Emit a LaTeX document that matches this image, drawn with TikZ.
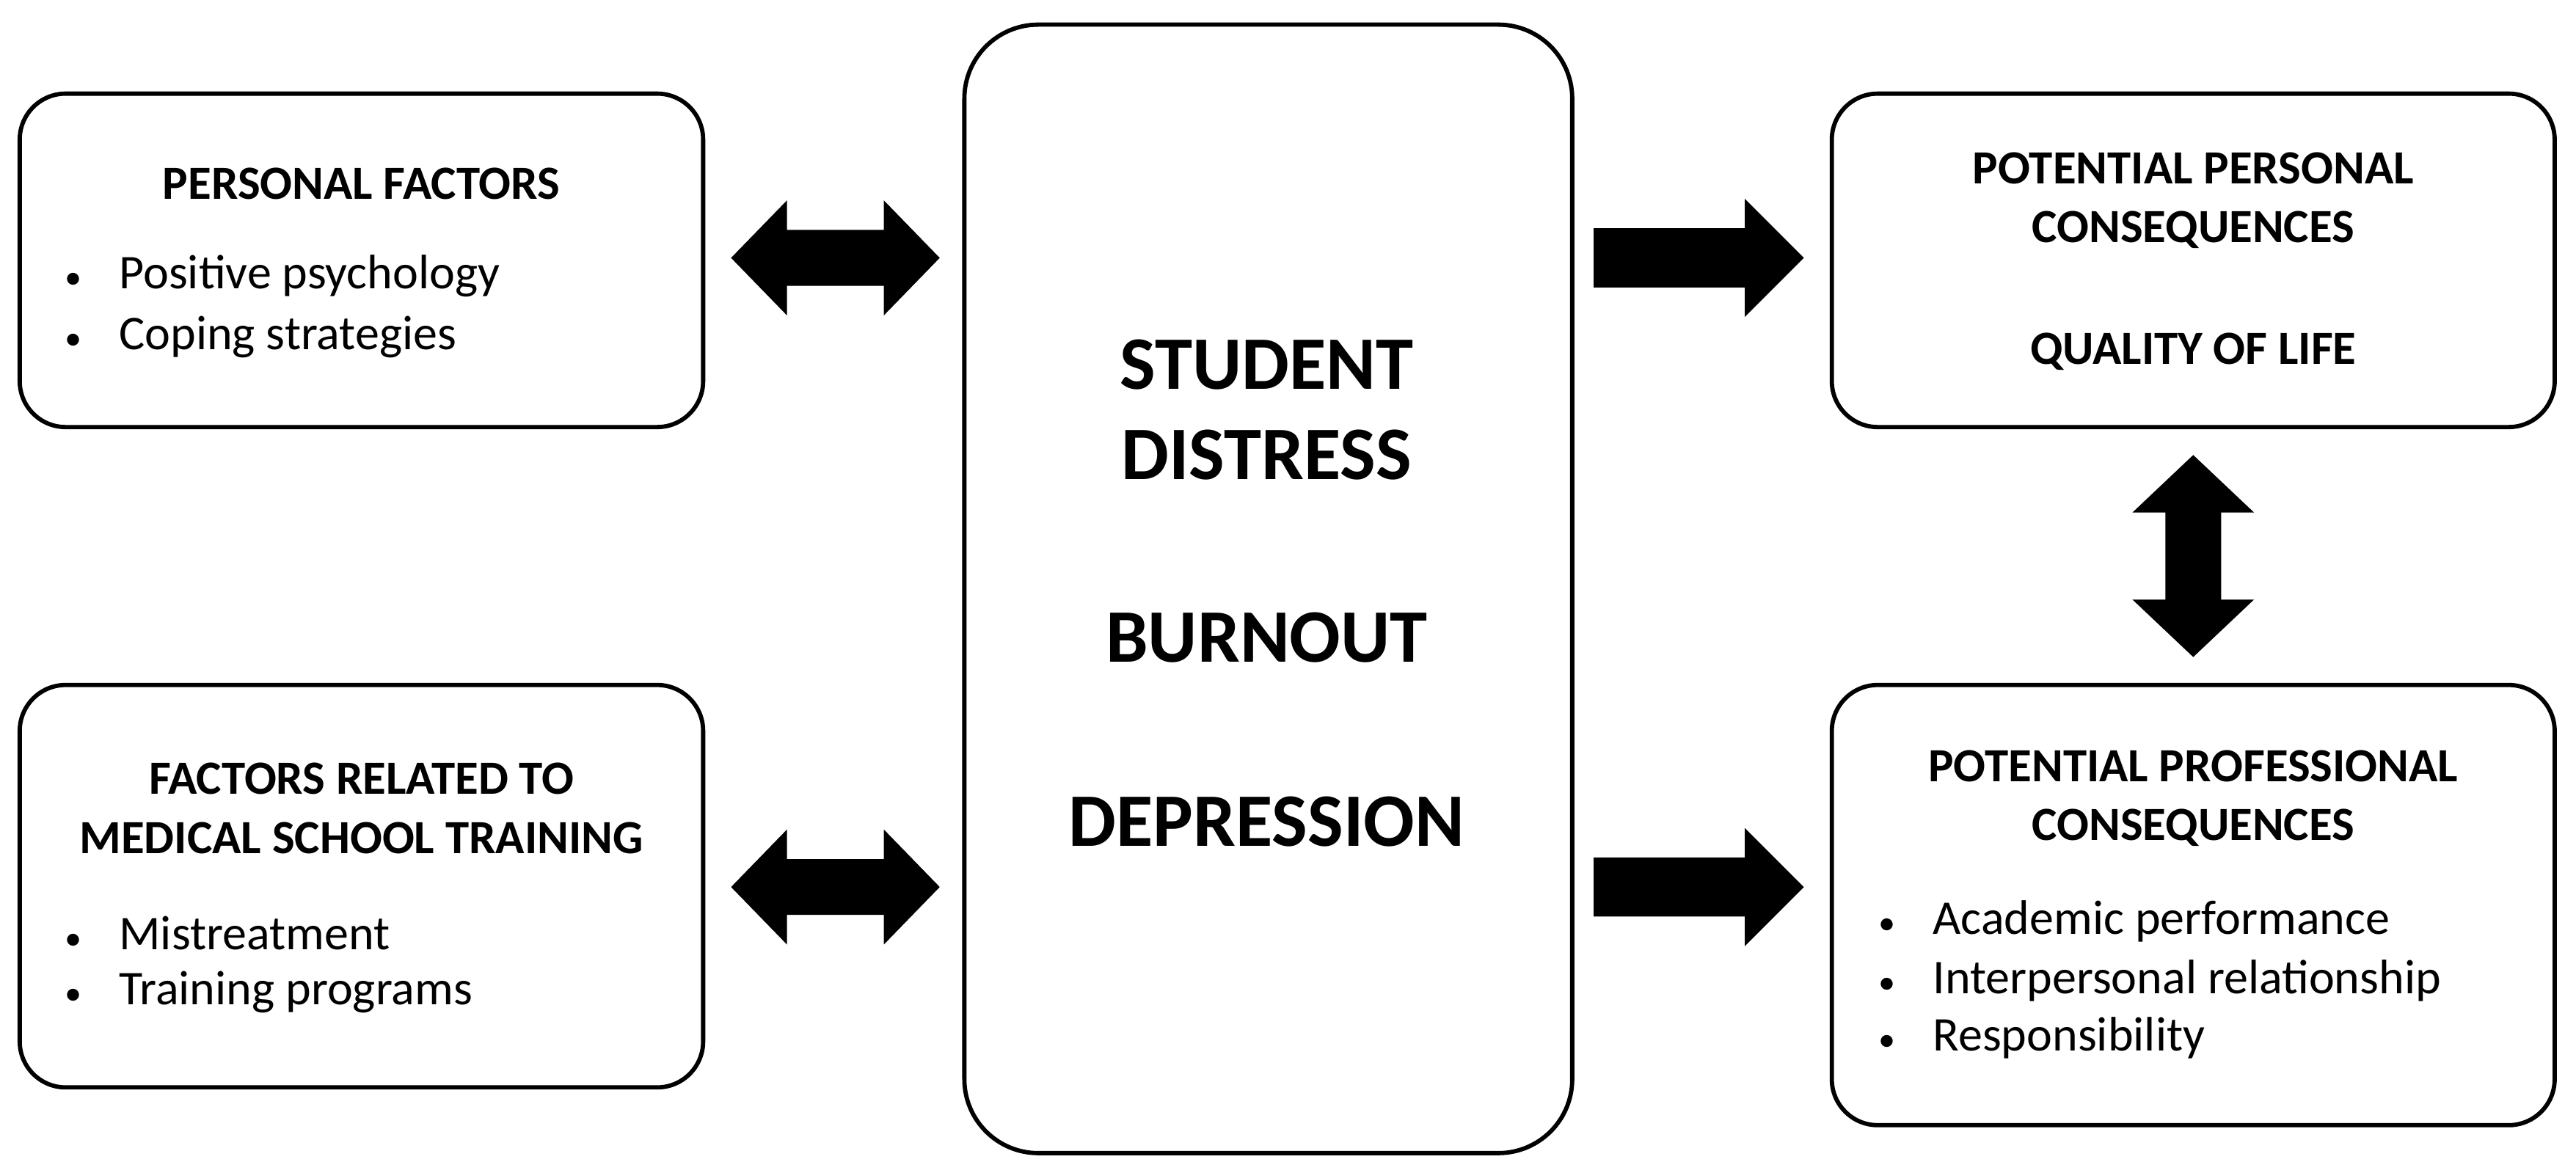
\documentclass[tikz,border=0pt]{standalone}
\usepackage{fontspec}
\setmainfont{Carlito}
\begin{document}
\begin{tikzpicture}[x=1pt,y=-1pt,
 box/.style={draw,line width=2.6pt,rounded corners=28pt},
 ttl/.style={font=\fontsize{29}{36}\selectfont\bfseries,align=center},
 txt/.style={font=\fontsize{29.5}{36}\selectfont,anchor=west},
 big/.style={font=\fontsize{46}{52}\selectfont\bfseries},
 arr/.style={fill=black,draw=none}]
\useasboundingbox (0,0) rectangle (1568,714);
\newcommand\bul{\makebox[33pt][l]{\scalebox{0.7}{•}}}
\node[box,minimum width=416pt,minimum height=203pt] (pf) at (220,158.5) {};
\node[box,minimum width=416pt,minimum height=245pt] (ms) at (220,539.5) {};
\node[box,minimum width=370pt,minimum height=687pt,rounded corners=45pt] (c) at (772,358.5) {};
\node[box,minimum width=440pt,minimum height=203pt] (pp) at (1335,158.5) {};
\node[box,minimum width=440pt,minimum height=268pt] (pr) at (1335,551) {};
% texts
\node[ttl] (t1) at (220,112) {PERSONAL FACTORS};
\node[txt] (b1) at (36,168) {\bul Positive psychology};
\node[txt] (b2) at (36,205) {\bul Coping strategies};
\node[ttl] (t2) at (220,492) {FACTORS RELATED TO\\MEDICAL SCHOOL TRAINING};
\node[txt] (b3) at (36,568) {\bul Mistreatment};
\node[txt] (b4) at (36,604) {\bul Training programs};
\node[big] (c1) at (771,222) {STUDENT};
\node[big] (c2) at (771,277) {DISTRESS};
\node[big] (c3) at (771,388) {BURNOUT};
\node[big] (c4) at (771,500) {DEPRESSION};
\node[ttl] (t3) at (1335,122) {POTENTIAL PERSONAL\\CONSEQUENCES};
\node[ttl] (t4) at (1335,214) {QUALITY OF LIFE};
\node[ttl] (t5) at (1335,486) {POTENTIAL PROFESSIONAL\\CONSEQUENCES};
\node[txt] (b5) at (1140,561) {\bul Academic performance};
\node[txt] (b6) at (1140,597) {\bul Interpersonal relationship};
\node[txt] (b7) at (1140,632) {\bul Responsibility};
% arrows
\foreach \y in {157,540}{
 \fill[arr] (445,\y) -- (479,\y-35) -- (479,\y-17) -- (538,\y-17) -- (538,\y-35) -- (572,\y) -- (538,\y+35) -- (538,\y+17) -- (479,\y+17) -- (479,\y+35) -- cycle;
 \fill[arr] (970,\y-18) -- (1062,\y-18) -- (1062,\y-36) -- (1098,\y) -- (1062,\y+36) -- (1062,\y+18) -- (970,\y+18) -- cycle;
}
\fill[arr] (1335,277) -- (1372,312) -- (1352,312) -- (1352,365) -- (1372,365) -- (1335,400) -- (1298,365) -- (1318,365) -- (1318,312) -- (1298,312) -- cycle;
\end{tikzpicture}
\end{document}
